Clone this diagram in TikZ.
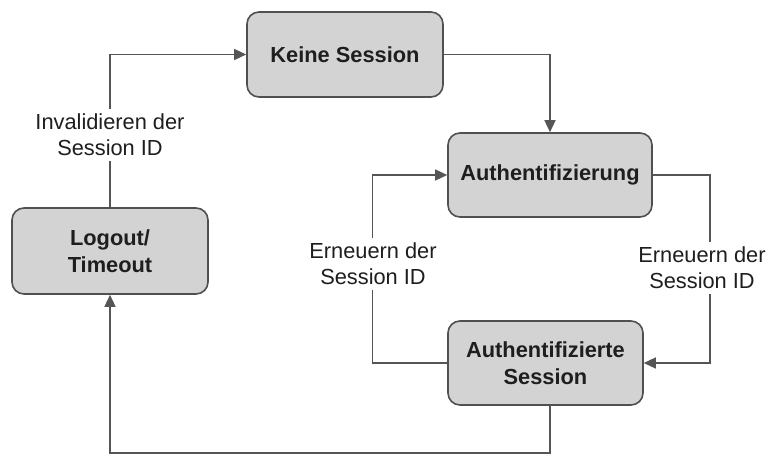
\documentclass[tikz,border=0pt]{standalone}
\usepackage{fontspec}
\setmainfont{Liberation Sans}
\usetikzlibrary{arrows.meta}
\definecolor{boxfill}{HTML}{D3D3D3}
\definecolor{boxline}{HTML}{505050}
\definecolor{conn}{HTML}{555555}
\definecolor{txt}{HTML}{1E1E1E}
\begin{document}
\begin{tikzpicture}[x=1pt,y=-1pt,
  state/.style={draw=boxline, line width=1.6pt, fill=boxfill, rounded corners=12pt,
    minimum width=196pt, minimum height=85pt, align=center, text=txt,
    font=\fontsize{21.8}{27}\selectfont\bfseries},
  lbl/.style={fill=white, align=center, text=txt, inner sep=5pt,
    font=\fontsize{21.8}{26}\selectfont},
  conn/.style={draw=conn, line width=1.4pt},
  arr/.style={conn, -{Triangle[length=12pt,width=11pt]}}]
\useasboundingbox (0,0) rectangle (766,456);
\node[state] (ks) at (345,54.5) {Keine Session};
\node[state, minimum width=204pt, minimum height=84pt] (au) at (550,175) {Authentifizierung};
\node[state, minimum height=86pt] (lo) at (110,251) {Logout/\\Timeout};
\node[state, minimum width=195pt, minimum height=84pt] (as) at (545.5,363) {Authentifizierte\\Session};
\coordinate (asb) at (550,405);
\coordinate (bot) at (550,453);
% connectors
\draw[arr] (ks.east) -| (au.north);
\draw[arr] (au.east) -- ++(57,0) |- (as.east);
\draw[arr] (as.west) -- ++(-75,0) |- (au.west);
\draw[arr] (asb) -- (bot) -| (lo.south);
\draw[arr] (lo.north) |- (ks.west);
% labels
\node[lbl] (l1) at (110,135) {Invalidieren der\\Session ID};
\node[lbl] (l2) at (373,264) {Erneuern der\\Session ID};
\node[lbl] (l3) at (702,268) {Erneuern der\\Session ID};
\end{tikzpicture}
\end{document}
